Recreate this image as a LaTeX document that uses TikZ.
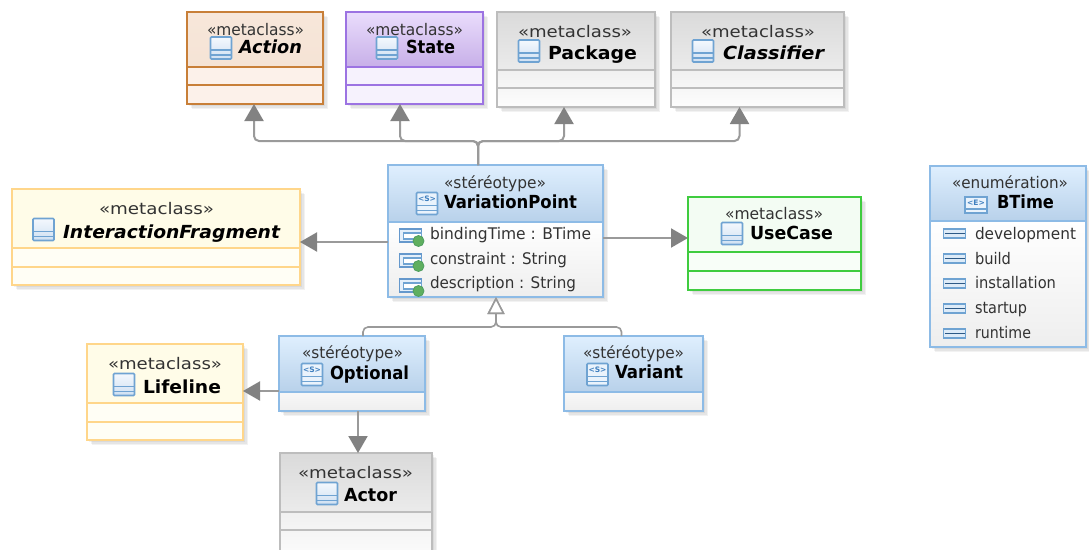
\documentclass[tikz,border=0pt]{standalone}
\usepackage{fontspec}
\usepackage{graphicx}
\setmainfont{DejaVu Sans}
\usetikzlibrary{fit,arrows.meta,calc}
\newcommand{\hexc}[1]{\definecolor{#1}{HTML}{#1}}
\hexc{F7E7DA}\hexc{F5E3D5}\hexc{FCF1EA}\hexc{C87F38}
\hexc{EADDFC}\hexc{C7AFE8}\hexc{F6F2FD}\hexc{9C73E2}
\hexc{DADADA}\hexc{EBEBEB}\hexc{F0F0F0}\hexc{FDFDFD}\hexc{BDBDBD}
\hexc{FFFCE8}\hexc{FFFEF5}\hexc{FFD68A}
\hexc{F3FCF3}\hexc{F8FEF8}\hexc{3FCC3F}
\hexc{DFEFFE}\hexc{B8D1EA}\hexc{F8F8F8}\hexc{EEEEEE}\hexc{FFFFFF}\hexc{8DBBE6}
\hexc{F4F8FD}\hexc{CFE0F2}\hexc{EAF3FC}\hexc{E4EFFA}\hexc{DDEBF8}
\definecolor{iconEdge}{HTML}{6FA3D2}
\definecolor{iconBlue}{HTML}{3F7FBF}
\definecolor{linkGray}{HTML}{9A9A9A}
\definecolor{headGray}{HTML}{828282}
\definecolor{txtGray}{HTML}{333333}
\definecolor{attrGreen}{HTML}{5FAF5F}
\definecolor{attrGreenD}{HTML}{4E9E5E}
\tikzset{
  x=1pt,y=-1pt,
  orangeHead/.style={top color=F7E7DA,bottom color=F5E3D5},
  orangeBody/.style={fill=FCF1EA},
  orangeLine/.style={draw=C87F38},
  purpleHead/.style={top color=EADDFC,bottom color=C7AFE8},
  purpleBody/.style={fill=F6F2FD},
  purpleLine/.style={draw=9C73E2},
  grayHead/.style={top color=DADADA,bottom color=EBEBEB},
  grayBody/.style={top color=F0F0F0,bottom color=FDFDFD},
  grayLine/.style={draw=BDBDBD},
  yellowHead/.style={fill=FFFCE8},
  yellowBody/.style={fill=FFFEF5},
  yellowLine/.style={draw=FFD68A},
  greenHead/.style={fill=F3FCF3},
  greenBody/.style={fill=F8FEF8},
  greenLine/.style={draw=3FCC3F},
  blueHead/.style={top color=DFEFFE,bottom color=B8D1EA},
  blueBody/.style={top color=F8F8F8,bottom color=EEEEEE},
  whiteBody/.style={top color=FFFFFF,middle color=FFFFFF,bottom color=EEEEEE},
  blueLine/.style={draw=8DBBE6},
  shadowBox/.style={fill=black,opacity=0.05},
  boxFrame/.style={rectangle,fit={#1},inner sep=0pt,outer sep=0pt,line width=1.6pt},
  lbl/.style={anchor=base west,inner sep=0pt,outer sep=0pt},
  link/.style={draw=linkGray,line width=2pt,rounded corners=5pt},
  assoc/.style={link,-{Triangle[length=17pt,width=19pt,color=headGray]}},
  gener/.style={link,line width=1.6pt,-{Triangle[open,length=17pt,width=17pt,fill=white,color=linkGray]}},
}
\newcommand{\fs}[1]{\fontsize{#1}{#1}\selectfont}
% text fitted to a width
\newcommand{\stTxt}[4]{\node[lbl,text=txtGray] (#1) at (#2,#3) {\resizebox{#4pt}{\height}{\fs{16}\guillemotleft metaclass\guillemotright}};}
\newcommand{\anyTxt}[5]{\node[lbl,text=txtGray] (#1) at (#2,#3) {\resizebox{#4pt}{\height}{\fs{16}#5}};}
\newcommand{\nameTxt}[5]{\node[lbl] (#1) at (#2,#3) {\resizebox{#4pt}{\height}{\fs{18}\bfseries #5}};}
\newcommand{\inameTxt}[5]{\node[lbl] (#1) at (#2,#3) {\resizebox{#4pt}{\height}{\fs{18}\bfseries\itshape #5}};}
% boxes: id x1 y1 x2 y2 d1 d2 palette
\newcommand{\shadowAt}[4]{%
  \foreach \o in {2,3.5,5}{\fill[shadowBox] (#1+\o,#2+\o) rectangle (#3+\o,#4+\o);}}
\newcommand{\metaBox}[8]{%
  \shadowAt{#2}{#3}{#4}{#5}
  \path[#8Body] (#2,#6) rectangle (#4,#5);
  \path[#8Head] (#2,#3) rectangle (#4,#6);
  \node[boxFrame={(#2,#3)(#4,#5)},#8Line] (#1) {};
  \draw[#8Line,line width=1.6pt] (#2,#6) -- (#4,#6) (#2,#7) -- (#4,#7);}
\newcommand{\stBox}[7]{%
  \shadowAt{#2}{#3}{#4}{#5}
  \path[#7] (#2,#6) rectangle (#4,#5);
  \path[blueHead] (#2,#3) rectangle (#4,#6);
  \node[boxFrame={(#2,#3)(#4,#5)},blueLine] (#1) {};
  \draw[blueLine,line width=1.6pt] (#2,#6) -- (#4,#6);}
% icons: x y
\newcommand{\classIcon}[2]{%
  \path[top color=F4F8FD,bottom color=CFE0F2] (#1,#2) rectangle (#1+21,#2+22);
  \draw[iconEdge,line width=1.6pt,rounded corners=1pt] (#1,#2) rectangle (#1+21,#2+22);
  \draw[iconEdge,line width=1.4pt] (#1,#2+13) -- (#1+21,#2+13) (#1,#2+18) -- (#1+21,#2+18);}
\newcommand{\stIcon}[3]{%
  \path[fill=EAF3FC] (#1,#2) rectangle (#1+21,#2+22);
  \draw[iconEdge,line width=1.6pt,rounded corners=1pt] (#1,#2) rectangle (#1+21,#2+22);
  \draw[iconEdge,line width=1.4pt] (#1,#2+13) -- (#1+21,#2+13) (#1,#2+18) -- (#1+21,#2+18);
  \node[inner sep=0pt,text=iconBlue] (#3) at (#1+10.5,#2+6.5) {\fontsize{7.5}{8}\selectfont\bfseries <S>};}
\newcommand{\enIcon}[3]{%
  \path[fill=EAF3FC] (#1,#2) rectangle (#1+22,#2+16);
  \draw[iconEdge,line width=1.5pt] (#1,#2) rectangle (#1+22,#2+16);
  \draw[iconEdge,line width=1.3pt] (#1,#2+12) -- (#1+22,#2+12);
  \node[inner sep=0pt,text=iconBlue] (#3) at (#1+11,#2+6) {\fontsize{7.5}{8}\selectfont\bfseries <E>};}
\newcommand{\attrIcon}[2]{%
  \draw[iconBlue!80,fill=E4EFFA,line width=1.3pt] (#1,#2) rectangle (#1+22,#2+13);
  \draw[iconEdge,fill=white,line width=1.1pt] (#1+4,#2+4) rectangle (#1+22,#2+10);
  \draw[attrGreenD,fill=attrGreen,line width=0.8pt] (#1+19,#2+12) circle (5.5pt);}
\newcommand{\litIcon}[2]{%
  \draw[iconEdge,fill=DDEBF8,line width=1.3pt] (#1,#2) rectangle (#1+22,#2+9);
  \draw[iconBlue!70!black,line width=1.4pt] (#1+1,#2+4.5) -- (#1+21,#2+4.5);}
\begin{document}
\begin{tikzpicture}
\useasboundingbox (0,0) rectangle (1089,549);
\clip (0,0) rectangle (1089,549);
\fill[white] (0,0) rectangle (1089,549);

% ---- boxes
\metaBox{action}{187}{12}{323}{104}{67}{85}{orange}
\classIcon{210.5}{37}
\stTxt{actionS}{207}{35}{97}
\inameTxt{actionN}{239}{53}{63}{Action}

\metaBox{state}{346}{12}{483}{104}{67}{85}{purple}
\classIcon{376.5}{37}
\stTxt{stateS}{366}{35}{97}
\nameTxt{stateN}{406}{53}{49}{State}

\metaBox{package}{497}{12}{655}{107}{70}{88}{gray}
\classIcon{518.5}{40}
\stTxt{packageS}{518}{37}{114}
\nameTxt{packageN}{548}{59}{89}{Package}

\metaBox{classifier}{671}{12}{844}{107}{70}{88}{gray}
\classIcon{692.5}{40}
\stTxt{classifierS}{701}{37}{114}
\inameTxt{classifierN}{723}{59}{101}{Classifier}

\metaBox{fragment}{12}{189}{300}{285}{248}{267}{yellow}
\classIcon{33}{218.5}
\stTxt{fragmentS}{99}{214}{115}
\inameTxt{fragmentN}{63}{238}{217}{InteractionFragment}

\metaBox{usecase}{688}{197}{861}{290}{252}{271}{green}
\classIcon{721.5}{222.5}
\stTxt{usecaseS}{725}{219}{98}
\nameTxt{usecaseN}{750}{239}{83}{UseCase}

\metaBox{lifeline}{87}{344}{243}{440}{403}{422}{yellow}
\classIcon{113.5}{373.5}
\stTxt{lifelineS}{108}{369}{114}
\nameTxt{lifelineN}{143}{393}{78}{Lifeline}

\metaBox{actor}{280}{453}{432}{560}{512}{530}{gray}
\classIcon{316.5}{482.5}
\stTxt{actorS}{298}{478}{115}
\nameTxt{actorN}{344}{501}{53}{Actor}

\stBox{vp}{388}{165}{603}{297}{222}{whiteBody}
\stIcon{416.5}{192.5}{vpI}
\anyTxt{vpS}{444}{188}{102}{\guillemotleft stéréotype\guillemotright}
\nameTxt{vpN}{444}{208}{133}{VariationPoint}
\attrIcon{399.5}{229}
\attrIcon{399.5}{254}
\attrIcon{399.5}{279}
\anyTxt{vpA}{430}{239}{161}{bindingTime : BTime}
\anyTxt{vpB}{430}{264}{137}{constraint : String}
\anyTxt{vpC}{430}{288.5}{146}{description : String}

\stBox{optional}{279}{336}{425}{411}{392}{blueBody}
\stIcon{301.5}{363.5}{optI}
\anyTxt{optS}{302}{358}{101}{\guillemotleft stéréotype\guillemotright}
\nameTxt{optN}{330}{379}{79}{Optional}

\stBox{variant}{564}{336}{703}{411}{392}{blueBody}
\stIcon{587}{363.5}{varI}
\anyTxt{varS}{583}{358}{101}{\guillemotleft stéréotype\guillemotright}
\nameTxt{varN}{615}{378}{68}{Variant}

\stBox{btime}{930}{166}{1086}{347}{221}{whiteBody}
\enIcon{965}{197}{btI}
\anyTxt{btS}{952}{188}{116}{\guillemotleft enumération\guillemotright}
\nameTxt{btN}{997}{208}{57}{BTime}
\litIcon{943.5}{229}
\litIcon{943.5}{254}
\litIcon{943.5}{279}
\litIcon{943.5}{304}
\litIcon{943.5}{329}
\anyTxt{btA}{975}{239}{101}{development}
\anyTxt{btB}{975}{264}{36}{build}
\anyTxt{btC}{975}{288.5}{81}{installation}
\anyTxt{btD}{975}{313}{52}{startup}
\anyTxt{btE}{975}{338.5}{56}{runtime}

% ---- connectors
\coordinate (jt) at (478,141);
\coordinate (ja) at (254,141);
\coordinate (js) at (400,141);
\coordinate (jp) at (564,141);
\coordinate (jc) at (739.5,141);
\draw[assoc] (jt |- vp.north) -- (jt) -- (ja) -- (ja |- action.south);
\draw[assoc] (jt |- vp.north) -- (jt) -- (js) -- (js |- state.south);
\draw[assoc] (jt |- vp.north) -- (jt) -- (jp) -- (jp |- package.south);
\draw[assoc] (jt |- vp.north) -- (jt) -- (jc) -- (jc |- classifier.south);

\coordinate (rowL) at (345,242);
\coordinate (rowR) at (645,238);
\coordinate (rowO) at (260,391);
\coordinate (colA) at (358,430);
\draw[assoc] (rowL -| vp.west) -- (rowL -| fragment.east);
\draw[assoc] (rowR -| vp.east) -- (rowR -| usecase.west);
\draw[assoc] (rowO -| optional.west) -- (rowO -| lifeline.east);
\draw[assoc] (colA |- optional.south) -- (colA |- actor.north);

\coordinate (jg) at (496,327);
\coordinate (go) at (363,327);
\coordinate (gv) at (621.5,327);
\draw[gener] (go |- optional.north) -- (go) -- (jg) -- (jg |- vp.south);
\draw[gener] (gv |- variant.north) -- (gv) -- (jg) -- (jg |- vp.south);
\end{tikzpicture}
\end{document}
